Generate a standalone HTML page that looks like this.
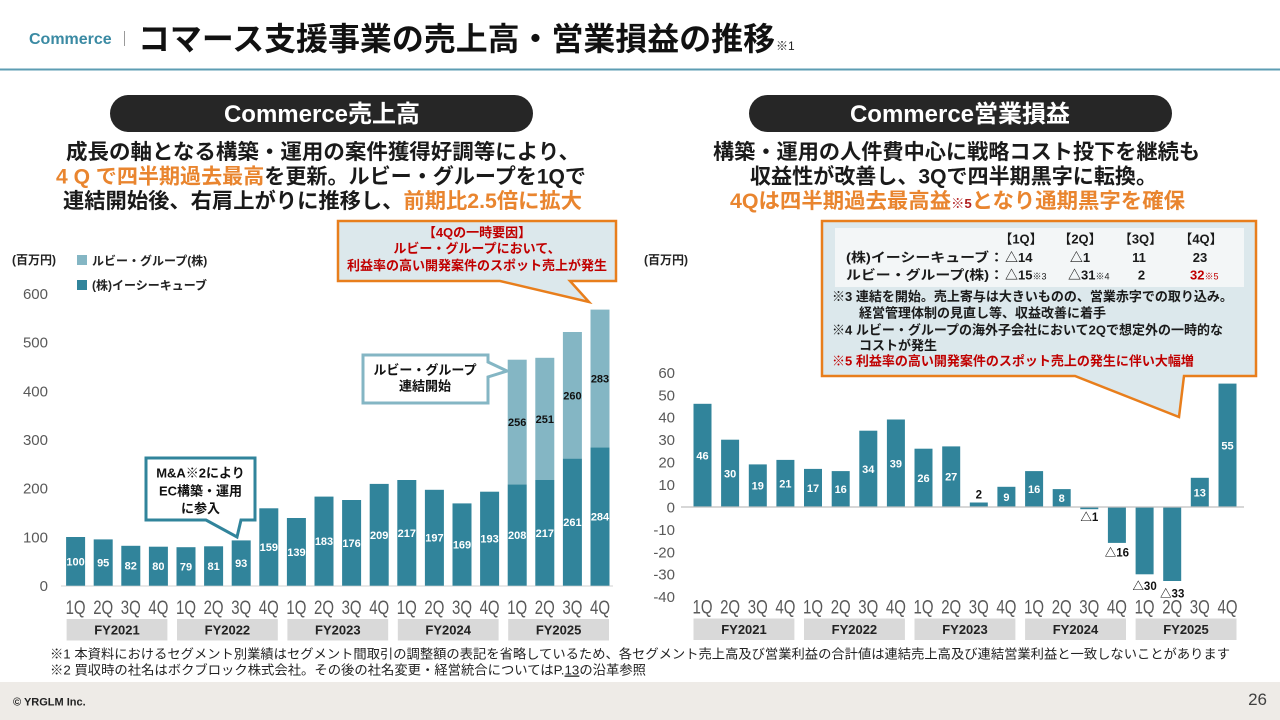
<!DOCTYPE html>
<html lang="ja">
<head>
<meta charset="utf-8">
<style>
  html,body{margin:0;padding:0;background:#fff;}
  body{width:1280px;height:720px;overflow:hidden;}
  svg{display:block;}
  text{font-family:"Liberation Sans","Noto Sans CJK JP",sans-serif;}
</style>
</head>
<body>
<svg width="1280" height="720" viewBox="0 0 1280 720" xmlns="http://www.w3.org/2000/svg">
  <!-- Header -->
  <text x="29" y="44" font-size="16" font-weight="700" fill="#3a8aa3">Commerce</text>
  <line x1="124.5" y1="31" x2="124.5" y2="46" stroke="#9a9a9a" stroke-width="1"/>
  <text x="138" y="50" font-size="32" font-weight="700" fill="#111" textLength="637" lengthAdjust="spacingAndGlyphs">コマース支援事業の売上高・営業損益の推移</text>
  <text x="776" y="50" font-size="12" fill="#222">※1</text>
  <rect x="0" y="68.5" width="1280" height="2" fill="#5d9db3"/>

  <!-- Pills -->
  <rect x="110" y="95" width="423" height="37" rx="18.5" fill="#262626"/>
  <text x="322" y="122" font-size="24" font-weight="700" fill="#fff" text-anchor="middle">Commerce売上高</text>
  <rect x="749" y="95" width="423" height="37" rx="18.5" fill="#262626"/>
  <text x="960" y="122" font-size="24" font-weight="700" fill="#fff" text-anchor="middle">Commerce営業損益</text>

  <!-- Left description -->
  <text x="66" y="159" font-size="21" font-weight="700" fill="#1a1a1a" textLength="514" lengthAdjust="spacingAndGlyphs">成長の軸となる構築・運用の案件獲得好調等により、</text>
  <text x="56" y="183.5" font-size="21" font-weight="700" fill="#1a1a1a" textLength="530" lengthAdjust="spacingAndGlyphs"><tspan fill="#e9852f">4 Q で四半期過去最高</tspan>を更新。ルビー・グループを1Qで</text>
  <text x="63" y="208" font-size="21" font-weight="700" fill="#1a1a1a" textLength="519" lengthAdjust="spacingAndGlyphs">連結開始後、右肩上がりに推移し、<tspan fill="#e9852f">前期比2.5倍に拡大</tspan></text>

  <!-- Right description -->
  <text x="713" y="159" font-size="21" font-weight="700" fill="#1a1a1a" textLength="487" lengthAdjust="spacingAndGlyphs">構築・運用の人件費中心に戦略コスト投下を継続も</text>
  <text x="750" y="183.5" font-size="21" font-weight="700" fill="#1a1a1a" textLength="407" lengthAdjust="spacingAndGlyphs">収益性が改善し、3Qで四半期黒字に転換。</text>
  <text x="730" y="208" font-size="21" font-weight="700" fill="#e9852f" textLength="455" lengthAdjust="spacingAndGlyphs">4Qは四半期過去最高益<tspan font-size="13" fill="#b02020">※5</tspan>となり通期黒字を確保</text>

  <!-- ============ LEFT CHART ============ -->
  <text x="12" y="264" font-size="12" font-weight="700" fill="#222">(百万円)</text>
  <rect x="77" y="255" width="10" height="10" fill="#84b6c4"/>
  <text x="92" y="265" font-size="12" font-weight="700" fill="#222">ルビー・グループ(株)</text>
  <rect x="77" y="280" width="10" height="10" fill="#31849b"/>
  <text x="92" y="289.5" font-size="12" font-weight="700" fill="#222">(株)イーシーキューブ</text>

  <g font-size="15" fill="#595959" text-anchor="end">
    <text x="48" y="298.9">600</text>
    <text x="48" y="347.6">500</text>
    <text x="48" y="396.3">400</text>
    <text x="48" y="445.0">300</text>
    <text x="48" y="493.7">200</text>
    <text x="48" y="542.4">100</text>
    <text x="48" y="591.1">0</text>
  </g>

  <line x1="61" y1="586" x2="613" y2="586" stroke="#d9d9d9" stroke-width="1.2"/>

  <g fill="#31849b">
    <rect x="66.1" y="537.0" width="19" height="48.7"/>
    <rect x="93.7" y="539.4" width="19" height="46.3"/>
    <rect x="121.3" y="545.8" width="19" height="39.9"/>
    <rect x="148.9" y="546.7" width="19" height="39.0"/>
    <rect x="176.5" y="547.2" width="19" height="38.5"/>
    <rect x="204.1" y="546.3" width="19" height="39.4"/>
    <rect x="231.7" y="540.4" width="19" height="45.3"/>
    <rect x="259.3" y="508.3" width="19" height="77.4"/>
    <rect x="286.9" y="518.0" width="19" height="67.7"/>
    <rect x="314.5" y="496.6" width="19" height="89.1"/>
    <rect x="342.1" y="500.0" width="19" height="85.7"/>
    <rect x="369.7" y="483.9" width="19" height="101.8"/>
    <rect x="397.3" y="480.0" width="19" height="105.7"/>
    <rect x="424.9" y="489.8" width="19" height="95.9"/>
    <rect x="452.5" y="503.4" width="19" height="82.3"/>
    <rect x="480.1" y="491.7" width="19" height="94.0"/>
    <rect x="507.7" y="484.4" width="19" height="101.3"/>
    <rect x="535.3" y="480.0" width="19" height="105.7"/>
    <rect x="562.9" y="458.6" width="19" height="127.1"/>
    <rect x="590.5" y="447.4" width="19" height="138.3"/>
  </g>
  <g fill="#84b6c4">
    <rect x="507.7" y="359.7" width="19" height="124.7"/>
    <rect x="535.3" y="357.8" width="19" height="122.2"/>
    <rect x="562.9" y="332.0" width="19" height="126.6"/>
    <rect x="590.5" y="309.6" width="19" height="137.8"/>
  </g>

  <g font-size="11" font-weight="700" fill="#fff" text-anchor="middle">
    <text x="75.6" y="565.4">100</text>
    <text x="103.2" y="566.6">95</text>
    <text x="130.8" y="569.7">82</text>
    <text x="158.4" y="570.2">80</text>
    <text x="186.0" y="570.5">79</text>
    <text x="213.6" y="570.0">81</text>
    <text x="241.2" y="567.1">93</text>
    <text x="268.8" y="551.0">159</text>
    <text x="296.4" y="555.9">139</text>
    <text x="324.0" y="545.1">183</text>
    <text x="351.6" y="546.8">176</text>
    <text x="379.2" y="538.8">209</text>
    <text x="406.8" y="536.9">217</text>
    <text x="434.4" y="541.7">197</text>
    <text x="462.0" y="548.6">169</text>
    <text x="489.6" y="542.7">193</text>
    <text x="517.2" y="539.1">208</text>
    <text x="544.8" y="536.9">217</text>
    <text x="572.4" y="526.1">261</text>
    <text x="600.0" y="520.5">284</text>
  </g>
  <g font-size="11" font-weight="700" fill="#111" text-anchor="middle">
    <text x="517.2" y="426.1">256</text>
    <text x="544.8" y="422.9">251</text>
    <text x="572.4" y="399.3">260</text>
    <text x="600.0" y="382.5">283</text>
  </g>

  <g font-size="19" fill="#595959" text-anchor="middle">
    <text x="75.6" y="613.8" textLength="20" lengthAdjust="spacingAndGlyphs">1Q</text>
    <text x="103.2" y="613.8" textLength="20" lengthAdjust="spacingAndGlyphs">2Q</text>
    <text x="130.8" y="613.8" textLength="20" lengthAdjust="spacingAndGlyphs">3Q</text>
    <text x="158.4" y="613.8" textLength="20" lengthAdjust="spacingAndGlyphs">4Q</text>
    <text x="186.0" y="613.8" textLength="20" lengthAdjust="spacingAndGlyphs">1Q</text>
    <text x="213.6" y="613.8" textLength="20" lengthAdjust="spacingAndGlyphs">2Q</text>
    <text x="241.2" y="613.8" textLength="20" lengthAdjust="spacingAndGlyphs">3Q</text>
    <text x="268.8" y="613.8" textLength="20" lengthAdjust="spacingAndGlyphs">4Q</text>
    <text x="296.4" y="613.8" textLength="20" lengthAdjust="spacingAndGlyphs">1Q</text>
    <text x="324.0" y="613.8" textLength="20" lengthAdjust="spacingAndGlyphs">2Q</text>
    <text x="351.6" y="613.8" textLength="20" lengthAdjust="spacingAndGlyphs">3Q</text>
    <text x="379.2" y="613.8" textLength="20" lengthAdjust="spacingAndGlyphs">4Q</text>
    <text x="406.8" y="613.8" textLength="20" lengthAdjust="spacingAndGlyphs">1Q</text>
    <text x="434.4" y="613.8" textLength="20" lengthAdjust="spacingAndGlyphs">2Q</text>
    <text x="462.0" y="613.8" textLength="20" lengthAdjust="spacingAndGlyphs">3Q</text>
    <text x="489.6" y="613.8" textLength="20" lengthAdjust="spacingAndGlyphs">4Q</text>
    <text x="517.2" y="613.8" textLength="20" lengthAdjust="spacingAndGlyphs">1Q</text>
    <text x="544.8" y="613.8" textLength="20" lengthAdjust="spacingAndGlyphs">2Q</text>
    <text x="572.4" y="613.8" textLength="20" lengthAdjust="spacingAndGlyphs">3Q</text>
    <text x="600.0" y="613.8" textLength="20" lengthAdjust="spacingAndGlyphs">4Q</text>
  </g>

  <g fill="#d9d9d9">
    <rect x="66.6" y="619" width="100.8" height="21.5"/>
    <rect x="177.0" y="619" width="100.8" height="21.5"/>
    <rect x="287.4" y="619" width="100.8" height="21.5"/>
    <rect x="397.8" y="619" width="100.8" height="21.5"/>
    <rect x="508.2" y="619" width="100.8" height="21.5"/>
  </g>
  <g font-size="13" font-weight="700" fill="#222" text-anchor="middle">
    <text x="117.0" y="634.7">FY2021</text>
    <text x="227.4" y="634.7">FY2022</text>
    <text x="337.8" y="634.7">FY2023</text>
    <text x="448.2" y="634.7">FY2024</text>
    <text x="558.6" y="634.7">FY2025</text>
  </g>

  <!-- Left callouts -->
  <path d="M338,221 H616 V281 H570 L589,302 L500,281 H338 Z" fill="#dce8ec" stroke="#e87e1c" stroke-width="2.5" stroke-linejoin="miter"/>
  <g font-size="13" font-weight="700" fill="#c00000" text-anchor="middle">
    <text x="477" y="237.2">【4Qの一時要因】</text>
    <text x="477" y="253.2">ルビー・グループにおいて、</text>
    <text x="477" y="270">利益率の高い開発案件のスポット売上が発生</text>
  </g>

  <path d="M363,355 H488 V362 L507,371 L488,377 V403 H363 Z" fill="#fff" stroke="#84b6c4" stroke-width="3"/>
  <g font-size="13" font-weight="700" fill="#111" text-anchor="middle">
    <text x="425" y="374.5">ルビー・グループ</text>
    <text x="425" y="390.5">連結開始</text>
  </g>

  <path d="M146,458 H255 V520 H241 L237,537 L206,520 H146 Z" fill="#fff" stroke="#31849b" stroke-width="3"/>
  <g font-size="13" font-weight="700" fill="#111" text-anchor="middle">
    <text x="200.5" y="477.5">M&amp;A※2により</text>
    <text x="200.5" y="495.5">EC構築・運用</text>
    <text x="200.5" y="513">に参入</text>
  </g>

  <!-- ============ RIGHT CHART ============ -->
  <text x="644" y="264" font-size="12" font-weight="700" fill="#222">(百万円)</text>

  <g font-size="15" fill="#595959" text-anchor="end">
    <text x="675" y="377.8">60</text>
    <text x="675" y="400.3">50</text>
    <text x="675" y="422.7">40</text>
    <text x="675" y="445.1">30</text>
    <text x="675" y="467.5">20</text>
    <text x="675" y="490.0">10</text>
    <text x="675" y="512.4">0</text>
    <text x="675" y="534.8">-10</text>
    <text x="675" y="557.3">-20</text>
    <text x="675" y="579.7">-30</text>
    <text x="675" y="602.1">-40</text>
  </g>

  <g fill="#31849b">
    <rect x="693.5" y="403.8" width="18" height="103.2"/>
    <rect x="721.1" y="439.7" width="18" height="67.3"/>
    <rect x="748.8" y="464.4" width="18" height="42.6"/>
    <rect x="776.4" y="459.9" width="18" height="47.1"/>
    <rect x="804.0" y="468.9" width="18" height="38.1"/>
    <rect x="831.7" y="471.1" width="18" height="35.9"/>
    <rect x="859.3" y="430.7" width="18" height="76.3"/>
    <rect x="886.9" y="419.5" width="18" height="87.5"/>
    <rect x="914.5" y="448.7" width="18" height="58.3"/>
    <rect x="942.2" y="446.4" width="18" height="60.6"/>
    <rect x="969.8" y="502.5" width="18" height="4.5"/>
    <rect x="997.4" y="486.8" width="18" height="20.2"/>
    <rect x="1025.1" y="471.1" width="18" height="35.9"/>
    <rect x="1052.7" y="489.1" width="18" height="17.9"/>
    <rect x="1080.3" y="507" width="18" height="2.2"/>
    <rect x="1107.9" y="507" width="18" height="35.9"/>
    <rect x="1135.6" y="507" width="18" height="67.3"/>
    <rect x="1163.2" y="507" width="18" height="74.0"/>
    <rect x="1190.8" y="477.8" width="18" height="29.2"/>
    <rect x="1218.5" y="383.6" width="18" height="123.4"/>
  </g>
  <line x1="681" y1="507" x2="1244" y2="507" stroke="#bfbfbf" stroke-width="1.2"/>

  <g font-size="11" font-weight="700" fill="#fff" text-anchor="middle">
    <text x="702.5" y="459.4">46</text>
    <text x="730.1" y="477.4">30</text>
    <text x="757.8" y="489.7">19</text>
    <text x="785.4" y="487.4">21</text>
    <text x="813.0" y="491.9">17</text>
    <text x="840.7" y="493.1">16</text>
    <text x="868.3" y="472.9">34</text>
    <text x="895.9" y="467.3">39</text>
    <text x="923.5" y="481.8">26</text>
    <text x="951.2" y="480.7">27</text>
    <text x="1006.4" y="500.9">9</text>
    <text x="1034.1" y="493.1">16</text>
    <text x="1061.7" y="502.0">8</text>
    <text x="1199.8" y="496.4">13</text>
    <text x="1227.5" y="449.3">55</text>
  </g>
  <g font-size="11.5" font-weight="700" fill="#111" text-anchor="middle">
    <text x="978.8" y="498.3">2</text>
    <text x="1089.3" y="521">△1</text>
    <text x="1116.9" y="556.5">△16</text>
    <text x="1144.6" y="590">△30</text>
    <text x="1172.2" y="597.5">△33</text>
  </g>

  <g font-size="19" fill="#595959" text-anchor="middle">
    <text x="702.5" y="613.5" textLength="20" lengthAdjust="spacingAndGlyphs">1Q</text>
    <text x="730.1" y="613.5" textLength="20" lengthAdjust="spacingAndGlyphs">2Q</text>
    <text x="757.8" y="613.5" textLength="20" lengthAdjust="spacingAndGlyphs">3Q</text>
    <text x="785.4" y="613.5" textLength="20" lengthAdjust="spacingAndGlyphs">4Q</text>
    <text x="813.0" y="613.5" textLength="20" lengthAdjust="spacingAndGlyphs">1Q</text>
    <text x="840.7" y="613.5" textLength="20" lengthAdjust="spacingAndGlyphs">2Q</text>
    <text x="868.3" y="613.5" textLength="20" lengthAdjust="spacingAndGlyphs">3Q</text>
    <text x="895.9" y="613.5" textLength="20" lengthAdjust="spacingAndGlyphs">4Q</text>
    <text x="923.5" y="613.5" textLength="20" lengthAdjust="spacingAndGlyphs">1Q</text>
    <text x="951.2" y="613.5" textLength="20" lengthAdjust="spacingAndGlyphs">2Q</text>
    <text x="978.8" y="613.5" textLength="20" lengthAdjust="spacingAndGlyphs">3Q</text>
    <text x="1006.4" y="613.5" textLength="20" lengthAdjust="spacingAndGlyphs">4Q</text>
    <text x="1034.1" y="613.5" textLength="20" lengthAdjust="spacingAndGlyphs">1Q</text>
    <text x="1061.7" y="613.5" textLength="20" lengthAdjust="spacingAndGlyphs">2Q</text>
    <text x="1089.3" y="613.5" textLength="20" lengthAdjust="spacingAndGlyphs">3Q</text>
    <text x="1116.9" y="613.5" textLength="20" lengthAdjust="spacingAndGlyphs">4Q</text>
    <text x="1144.6" y="613.5" textLength="20" lengthAdjust="spacingAndGlyphs">1Q</text>
    <text x="1172.2" y="613.5" textLength="20" lengthAdjust="spacingAndGlyphs">2Q</text>
    <text x="1199.8" y="613.5" textLength="20" lengthAdjust="spacingAndGlyphs">3Q</text>
    <text x="1227.5" y="613.5" textLength="20" lengthAdjust="spacingAndGlyphs">4Q</text>
  </g>

  <g fill="#d9d9d9">
    <rect x="693.5" y="618.5" width="100.9" height="21.5"/>
    <rect x="804.0" y="618.5" width="100.9" height="21.5"/>
    <rect x="914.5" y="618.5" width="100.9" height="21.5"/>
    <rect x="1025.1" y="618.5" width="100.9" height="21.5"/>
    <rect x="1135.6" y="618.5" width="100.9" height="21.5"/>
  </g>
  <g font-size="13" font-weight="700" fill="#222" text-anchor="middle">
    <text x="744.0" y="634">FY2021</text>
    <text x="854.4" y="634">FY2022</text>
    <text x="965.0" y="634">FY2023</text>
    <text x="1075.5" y="634">FY2024</text>
    <text x="1186.0" y="634">FY2025</text>
  </g>

  <!-- Right callout -->
  <path d="M822,221 H1256 V376 H1184 L1179,417 L1075,376 H822 Z" fill="#dce8ec" stroke="#e87e1c" stroke-width="2.5"/>
  <rect x="835" y="228" width="409" height="59" fill="#f3f6f7"/>
  <g font-size="13" font-weight="700" fill="#1a1a1a">
    <text x="1021" y="243.5" text-anchor="middle">【1Q】</text>
    <text x="1080" y="243.5" text-anchor="middle">【2Q】</text>
    <text x="1140.5" y="243.5" text-anchor="middle">【3Q】</text>
    <text x="1201" y="243.5" text-anchor="middle">【4Q】</text>

    <text x="846" y="262" textLength="158" lengthAdjust="spacingAndGlyphs">(株)イーシーキューブ：</text>
    <text x="1005" y="262">△14</text>
    <text x="1080" y="262" text-anchor="middle">△1</text>
    <text x="1139" y="262" text-anchor="middle">11</text>
    <text x="1200" y="262" text-anchor="middle">23</text>

    <text x="846" y="279.5" textLength="158" lengthAdjust="spacingAndGlyphs">ルビー・グループ(株)：</text>
    <text x="1005" y="279.5">△15<tspan font-size="9" font-weight="400">※3</tspan></text>
    <text x="1068" y="279.5">△31<tspan font-size="9" font-weight="400">※4</tspan></text>
    <text x="1141.5" y="279.5" text-anchor="middle">2</text>
    <text x="1190" y="279.5" fill="#c00000">32<tspan font-size="9" font-weight="400">※5</tspan></text>

    <text x="832" y="301.2">※3 連結を開始。売上寄与は大きいものの、営業赤字での取り込み。</text>
    <text x="859" y="317.5">経営管理体制の見直し等、収益改善に着手</text>
    <text x="832" y="334.5">※4 ルビー・グループの海外子会社において2Qで想定外の一時的な</text>
    <text x="859" y="350.2">コストが発生</text>
    <text x="832" y="365.5" fill="#c00000">※5 利益率の高い開発案件のスポット売上の発生に伴い大幅増</text>
  </g>

  <!-- Footnotes -->
  <text x="50" y="658.5" font-size="13" fill="#222" textLength="1180" lengthAdjust="spacingAndGlyphs">※1 本資料におけるセグメント別業績はセグメント間取引の調整額の表記を省略しているため、各セグメント売上高及び営業利益の合計値は連結売上高及び連結営業利益と一致しないことがあります</text>
  <text x="50" y="674.5" font-size="13" fill="#222" textLength="596" lengthAdjust="spacingAndGlyphs">※2 買収時の社名はボクブロック株式会社。その後の社名変更・経営統合についてはP.<tspan text-decoration="underline">13</tspan>の沿革参照</text>

  <!-- Footer band -->
  <rect x="0" y="682" width="1280" height="38" fill="#eeebe7"/>
  <text x="13" y="705.5" font-size="11" font-weight="700" fill="#222">© YRGLM Inc.</text>
  <text x="1267" y="705" font-size="17" fill="#404040" text-anchor="end">26</text>
</svg>
</body>
</html>
